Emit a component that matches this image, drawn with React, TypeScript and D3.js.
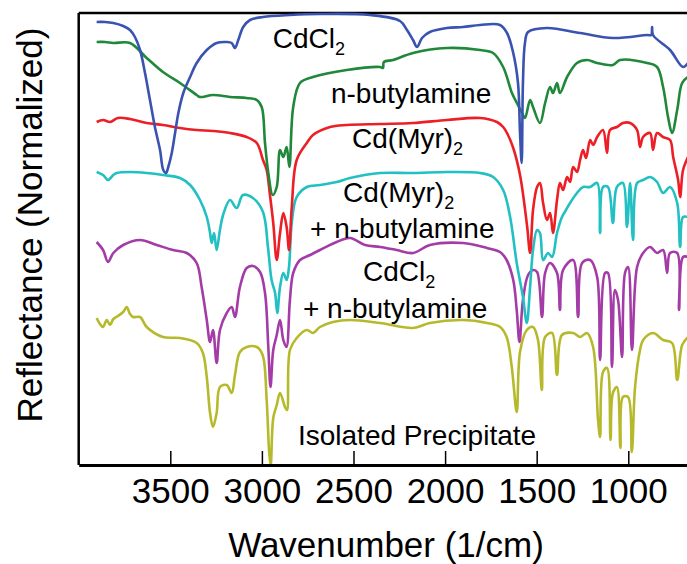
import React, { useRef, useEffect } from "react";
import * as d3 from "d3";

// [wavenumber (1/cm), reflectance (normalized, stacked offset)]
const cdcl2 = [
  [3902, 4.43], [3856, 4.43], [3811, 4.42], [3757, 4.39], [3720, 4.35], [3693, 4.28],
  [3665, 4.15], [3638, 3.92], [3611, 3.65], [3584, 3.38], [3556, 3.15], [3538, 2.95],
  [3523, 2.92], [3511, 2.98], [3492, 3.12], [3474, 3.32], [3456, 3.52], [3429, 3.72],
  [3392, 3.88], [3356, 4.02], [3301, 4.15], [3247, 4.22], [3192, 4.23], [3165, 4.22],
  [3147, 4.17], [3129, 4.25], [3102, 4.38], [3065, 4.45], [2994, 4.48], [2847, 4.5],
  [2683, 4.51], [2410, 4.5], [2246, 4.44], [2208, 4.35], [2175, 4.25], [2153, 4.18],
  [2126, 4.27], [2083, 4.33], [1990, 4.37], [1902, 4.38], [1809, 4.4], [1700, 4.4],
  [1662, 4.32], [1628, 4.12], [1602, 3.82], [1591, 3.32], [1582, 3.02], [1575, 3.82],
  [1564, 4.22], [1547, 4.33], [1444, 4.37], [1263, 4.32], [1084, 4.27], [897, 4.3],
  [875, 4.3], [870, 4.38], [865, 4.3], [772, 4.15], [701, 3.98], [674, 4.02],
];

const butylamine = [
  [3902, 4.23], [3856, 4.23], [3811, 4.22], [3720, 4.22], [3629, 4.07], [3540, 3.93],
  [3447, 3.82], [3356, 3.7], [3338, 3.68], [3267, 3.7], [3174, 3.68], [3083, 3.67],
  [3028, 3.65], [3001, 3.58], [2983, 3.22], [2965, 2.92], [2941, 2.7], [2919, 2.78],
  [2901, 3.15], [2883, 3.08], [2865, 3.18], [2850, 2.98], [2829, 3.58], [2792, 3.82],
  [2721, 3.88], [2537, 3.95], [2355, 3.98], [2339, 3.97], [2334, 4.03], [2284, 4.05],
  [2175, 4.12], [1990, 4.17], [1809, 4.15], [1738, 4.12], [1683, 3.98], [1635, 3.72],
  [1608, 3.62], [1580, 3.52], [1564, 3.47], [1536, 3.65], [1520, 3.58], [1482, 3.42],
  [1454, 3.62], [1427, 3.78], [1411, 3.72], [1389, 3.82], [1373, 3.72], [1334, 3.88],
  [1280, 4.02], [1225, 4.05], [1170, 4.02], [1084, 4.0], [1045, 4.05], [897, 4.02],
  [843, 3.98], [810, 3.78], [783, 3.48], [761, 3.32], [733, 3.55], [706, 3.82], [674, 3.88],
];

const cdMyr = [
  [3902, 3.43], [3867, 3.45], [3829, 3.43], [3786, 3.47], [3720, 3.46], [3629, 3.42],
  [3540, 3.4], [3447, 3.37], [3356, 3.35], [3267, 3.34], [3174, 3.32], [3083, 3.28],
  [3028, 3.22], [2994, 3.05], [2974, 2.95], [2956, 2.7], [2938, 2.42], [2919, 2.05],
  [2901, 2.32], [2883, 2.52], [2865, 2.38], [2852, 2.15], [2837, 2.58], [2810, 3.05],
  [2755, 3.22], [2721, 3.3], [2628, 3.38], [2537, 3.4], [2355, 3.41], [2175, 3.42],
  [1990, 3.45], [1809, 3.47], [1717, 3.43], [1683, 3.38], [1662, 3.32], [1628, 3.17],
  [1591, 2.9], [1553, 2.4], [1536, 2.12], [1520, 2.55], [1498, 2.78], [1482, 2.82],
  [1465, 2.62], [1444, 2.45], [1427, 2.52], [1411, 2.32], [1389, 2.65], [1373, 2.82],
  [1356, 2.75], [1334, 2.88], [1318, 2.83], [1301, 2.98], [1280, 2.93], [1263, 3.05],
  [1247, 3.15], [1231, 3.07], [1208, 3.25], [1192, 3.2], [1170, 3.28], [1138, 3.35],
  [1116, 3.12], [1100, 3.35], [1062, 3.38], [1029, 3.42], [990, 3.42], [952, 3.35],
  [936, 3.18], [919, 3.28], [881, 3.32], [865, 3.15], [843, 3.32], [810, 3.28],
  [772, 3.25], [755, 3.08], [728, 2.85], [717, 2.68], [701, 2.95], [674, 3.08],
];

const cdMyrAmine = [
  [3902, 2.93], [3867, 2.9], [3840, 2.85], [3811, 2.9], [3793, 2.92], [3720, 2.93],
  [3629, 2.92], [3540, 2.9], [3447, 2.87], [3392, 2.8], [3338, 2.65], [3301, 2.48],
  [3283, 2.32], [3274, 2.22], [3261, 2.32], [3247, 2.15], [3229, 2.35], [3212, 2.5],
  [3174, 2.65], [3138, 2.57], [3103, 2.7], [3049, 2.67], [2994, 2.53], [2967, 2.18],
  [2947, 1.85], [2928, 1.72], [2916, 1.52], [2901, 1.78], [2883, 1.92], [2865, 1.85],
  [2852, 1.98], [2837, 2.42], [2810, 2.68], [2755, 2.78], [2683, 2.8], [2592, 2.83],
  [2519, 2.87], [2355, 2.92], [2175, 2.92], [1990, 2.93], [1809, 2.92], [1738, 2.88],
  [1683, 2.75], [1645, 2.48], [1609, 2.02], [1575, 1.68], [1554, 1.42], [1536, 1.78],
  [1520, 2.15], [1498, 2.35], [1482, 2.32], [1465, 2.05], [1438, 2.12], [1416, 2.08],
  [1389, 2.32], [1362, 2.48], [1340, 2.55], [1318, 2.62], [1280, 2.72], [1247, 2.78],
  [1208, 2.78], [1170, 2.82], [1154, 2.32], [1138, 2.78], [1111, 2.78], [1084, 2.42],
  [1062, 2.78], [1029, 2.82], [1007, 2.38], [990, 2.82], [974, 2.25], [952, 2.82],
  [919, 2.85], [881, 2.88], [843, 2.83], [810, 2.72], [772, 2.78], [733, 2.62],
  [717, 2.18], [701, 2.48], [674, 2.48],
];

const cdcl2Amine = [
  [3902, 2.23], [3867, 2.15], [3840, 2.03], [3811, 2.12], [3757, 2.2], [3665, 2.25],
  [3574, 2.2], [3485, 2.15], [3410, 2.12], [3356, 2.02], [3329, 1.78], [3301, 1.45],
  [3283, 1.23], [3267, 1.35], [3247, 1.02], [3229, 1.35], [3192, 1.52], [3165, 1.58],
  [3147, 1.48], [3120, 1.78], [3083, 1.97], [3049, 1.99], [3010, 1.93], [2983, 1.72],
  [2965, 1.18], [2953, 0.78], [2938, 1.15], [2919, 1.3], [2901, 1.45], [2883, 1.25],
  [2866, 1.18], [2847, 1.65], [2829, 1.92], [2792, 2.05], [2737, 2.1], [2683, 2.15],
  [2592, 2.23], [2519, 2.27], [2437, 2.2], [2355, 2.18], [2264, 2.15], [2175, 2.12],
  [2083, 2.2], [1902, 2.22], [1771, 2.17], [1700, 2.13], [1664, 2.05], [1628, 1.85],
  [1609, 1.55], [1594, 1.23], [1575, 1.65], [1547, 1.9], [1520, 1.95], [1498, 1.93],
  [1471, 1.48], [1454, 1.92], [1427, 2.02], [1389, 1.92], [1373, 1.55], [1356, 1.95],
  [1301, 2.05], [1274, 1.48], [1252, 2.02], [1208, 2.05], [1170, 1.88], [1154, 1.05],
  [1127, 1.92], [1111, 1.92], [1089, 0.98], [1073, 1.75], [1056, 1.65], [1034, 1.08],
  [1018, 1.92], [1001, 1.98], [980, 1.15], [952, 1.98], [919, 2.12], [881, 2.18],
  [843, 2.12], [810, 2.15], [788, 1.92], [772, 2.12], [733, 2.12], [723, 1.55],
  [701, 2.08], [674, 2.08],
];

const precipitate = [
  [3902, 1.47], [3884, 1.41], [3867, 1.38], [3847, 1.45], [3829, 1.4], [3811, 1.46],
  [3786, 1.49], [3757, 1.53], [3738, 1.58], [3720, 1.51], [3704, 1.48], [3665, 1.48],
  [3629, 1.38], [3540, 1.28], [3447, 1.27], [3356, 1.22], [3322, 1.12], [3301, 0.88],
  [3283, 0.52], [3267, 0.38], [3247, 0.52], [3229, 0.78], [3192, 0.8], [3165, 0.72],
  [3147, 0.9], [3120, 1.13], [3083, 1.18], [3028, 1.18], [2996, 1.1], [2974, 0.65],
  [2960, 0.12], [2952, 0.0], [2938, 0.47], [2919, 0.6], [2901, 0.72], [2874, 0.58],
  [2863, 0.55], [2847, 1.15], [2810, 1.27], [2755, 1.35], [2721, 1.32], [2683, 1.38],
  [2612, 1.43], [2519, 1.45], [2355, 1.42], [2175, 1.37], [2083, 1.42], [1902, 1.45],
  [1771, 1.42], [1700, 1.38], [1664, 1.28], [1636, 0.98], [1609, 0.53], [1591, 1.13],
  [1554, 1.35], [1520, 1.38], [1493, 1.25], [1472, 0.75], [1454, 1.28], [1416, 1.32],
  [1389, 0.9], [1362, 1.3], [1301, 1.32], [1263, 1.28], [1225, 1.32], [1192, 1.18],
  [1165, 0.45], [1154, 0.28], [1138, 0.93], [1116, 0.97], [1097, 0.25], [1084, 0.72],
  [1062, 0.78], [1043, 0.17], [1029, 0.68], [1001, 0.68], [981, 0.13], [963, 0.78],
  [936, 1.15], [919, 1.25], [865, 1.32], [810, 1.25], [761, 1.22], [733, 0.85],
  [706, 1.2], [674, 1.28],
];

const xTicks = [3500, 3000, 2500, 2000, 1500, 1000];

// drawn bottom trace first so upper traces sit on top
const series = [
  { data: precipitate, color: "#b7b92c" },
  { data: cdcl2Amine, color: "#a33ca6" },
  { data: cdMyrAmine, color: "#22c0c2" },
  { data: cdMyr, color: "#ec1f26" },
  { data: butylamine, color: "#20883a" },
  { data: cdcl2, color: "#3a53b0" },
];

// trace labels, anchored in data coordinates
const labels = [
  { text: "CdCl", sub: "2", w: 2941, v: 4.17 },
  { text: "n-butylamine", sub: "", w: 2623, v: 3.62 },
  { text: "Cd(Myr)", sub: "2", w: 2508, v: 3.17 },
  { text: "Cd(Myr)", sub: "2", w: 2557, v: 2.63 },
  { text: "+ n-butylamine", sub: "", w: 2737, v: 2.27 },
  { text: "CdCl", sub: "2", w: 2448, v: 1.84 },
  { text: "+ n-butylamine", sub: "", w: 2776, v: 1.47 },
  { text: "Isolated Precipitate", sub: "", w: 2803, v: 0.2 },
];

const FONT = "'Liberation Sans', Arial, Helvetica, sans-serif";

export default function App() {
  const ref = useRef<SVGSVGElement>(null);
  const width = 687;
  const height = 564;

  useEffect(() => {
    const svg = d3.select(ref.current);
    svg.selectAll("*").remove();

    const top = 13;
    const bottom = 465;
    const left = 78.7;

    const x = d3.scaleLinear().domain([4000, 400]).range([left, 738.2]);
    const y = d3.scaleLinear().domain([0, 4.52]).range([bottom, top]);

    // frame: top and left
    svg.append("line")
      .attr("x1", left).attr("x2", width)
      .attr("y1", top).attr("y2", top)
      .attr("stroke", "#000").attr("stroke-width", 2.5);
    svg.append("line")
      .attr("x1", left).attr("x2", left)
      .attr("y1", top).attr("y2", bottom)
      .attr("stroke", "#000").attr("stroke-width", 2.5);

    // spectra
    const line = d3.line<number[]>()
      .x(d => x(d[0]))
      .y(d => y(d[1]))
      .curve(d3.curveCatmullRom.alpha(0.5));

    svg.selectAll(".trace")
      .data(series)
      .enter()
      .append("path")
      .attr("class", "trace")
      .attr("d", d => line(d.data))
      .attr("fill", "none")
      .attr("stroke", d => d.color)
      .attr("stroke-width", 2.6)
      .attr("stroke-linejoin", "round");

    // x axis, ticks pointing inward
    const gx = svg.append("g")
      .attr("transform", `translate(0,${bottom})`)
      .call(
        d3.axisBottom(x)
          .tickValues(xTicks)
          .tickFormat(d3.format("d"))
          .tickSizeInner(-14)
          .tickSizeOuter(0)
          .tickPadding(13)
      );
    gx.select(".domain").attr("stroke-width", 3);
    gx.selectAll(".tick line").attr("stroke-width", 1.5);
    gx.selectAll(".tick text")
      .attr("font-family", FONT)
      .attr("font-size", 35)
      .attr("fill", "#000");

    // trace labels
    labels.forEach(l => {
      const t = svg.append("text")
        .attr("x", x(l.w))
        .attr("y", y(l.v))
        .attr("font-family", FONT)
        .attr("font-size", 28)
        .attr("fill", "#000")
        .text(l.text);
      if (l.sub) {
        t.append("tspan")
          .attr("font-size", 18)
          .attr("dy", 7)
          .text(l.sub);
      }
    });

    // axis titles
    svg.append("text")
      .attr("x", 386)
      .attr("y", 557)
      .attr("text-anchor", "middle")
      .attr("font-family", FONT)
      .attr("font-size", 35)
      .text("Wavenumber (1/cm)");

    svg.append("text")
      .attr("transform", "translate(42,225) rotate(-90)")
      .attr("text-anchor", "middle")
      .attr("font-family", FONT)
      .attr("font-size", 35)
      .text("Reflectance (Normalized)");
  }, []);

  return (
    <svg
      ref={ref}
      width={width}
      height={height}
      style={{ position: "absolute", left: 0, top: 0, background: "#fff" }}
    />
  );
}
